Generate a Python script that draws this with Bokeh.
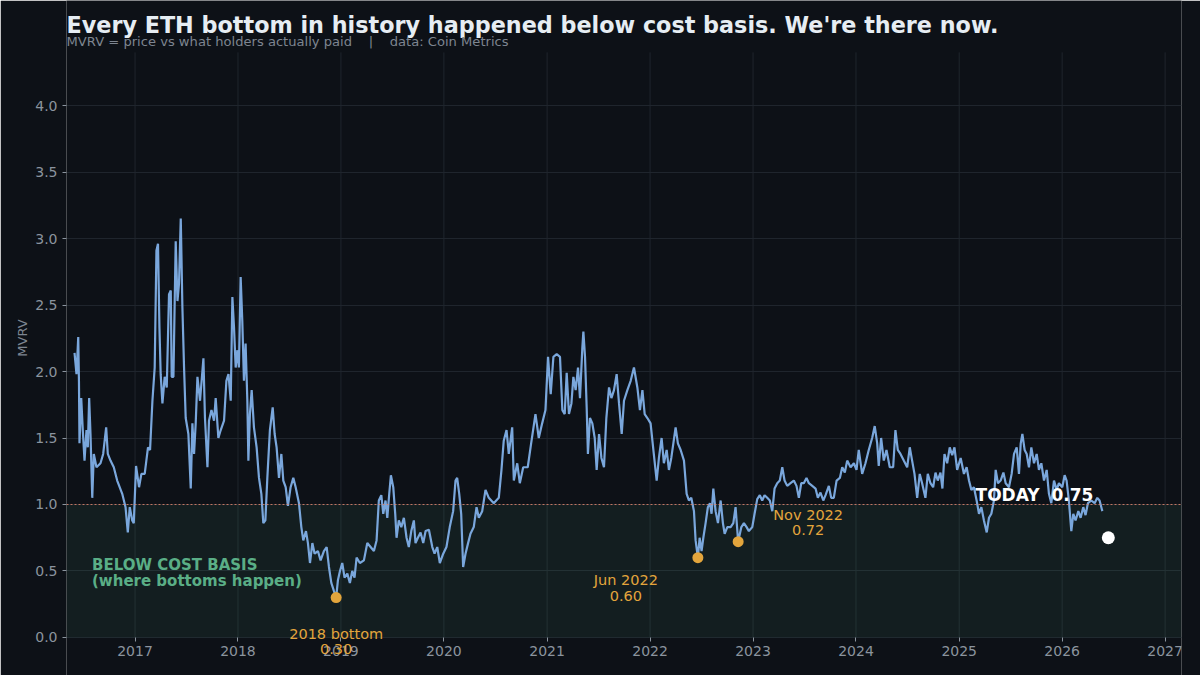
from datetime import datetime, timedelta
from bokeh.plotting import figure
from bokeh.models import (Span, BoxAnnotation, Label, ColumnDataSource, FixedTicker,
                          DatetimeTickFormatter, PrintfTickFormatter, Range1d)
from bokeh.embed import file_html
from bokeh.resources import INLINE

# ---------------- data ----------------
dec_years = [
    2016.415, 2016.434, 2016.451, 2016.458, 2016.463, 2016.480, 2016.495, 2016.512, 2016.531, 2016.544,
    2016.557, 2016.570, 2016.587, 2016.602, 2016.628, 2016.667, 2016.693, 2016.722, 2016.738, 2016.764,
    2016.796, 2016.829, 2016.878, 2016.910, 2016.932, 2016.951, 2016.975, 2016.990,
    2017.010, 2017.039, 2017.062, 2017.094, 2017.126, 2017.146, 2017.169, 2017.191, 2017.208, 2017.223,
    2017.237, 2017.249, 2017.266, 2017.288, 2017.308, 2017.330, 2017.347, 2017.356, 2017.373, 2017.395,
    2017.412, 2017.427, 2017.444, 2017.460, 2017.476, 2017.492, 2017.518, 2017.541, 2017.557, 2017.573,
    2017.589, 2017.606, 2017.631, 2017.664, 2017.679, 2017.703, 2017.718, 2017.742, 2017.767, 2017.783,
    2017.809, 2017.832, 2017.864, 2017.887, 2017.907, 2017.929, 2017.945, 2017.961, 2017.977, 2017.994,
    2018.009, 2018.026, 2018.042, 2018.058, 2018.074, 2018.091, 2018.101, 2018.116, 2018.133, 2018.155,
    2018.181, 2018.204, 2018.227, 2018.246, 2018.266, 2018.285, 2018.310, 2018.337, 2018.356, 2018.375,
    2018.398, 2018.421, 2018.440, 2018.463, 2018.485, 2018.511, 2018.537, 2018.560, 2018.592, 2018.615,
    2018.634, 2018.660, 2018.679, 2018.699, 2018.722, 2018.744, 2018.776, 2018.802, 2018.834, 2018.861,
    2018.883, 2018.906, 2018.931, 2018.953, 2018.970, 2018.990,
    2019.013, 2019.035, 2019.062, 2019.087, 2019.110, 2019.132, 2019.152, 2019.184, 2019.223, 2019.256,
    2019.288, 2019.320, 2019.346, 2019.368, 2019.392, 2019.411, 2019.433, 2019.450, 2019.469, 2019.485,
    2019.508, 2019.527, 2019.540, 2019.562, 2019.586, 2019.611, 2019.637, 2019.659, 2019.683, 2019.708,
    2019.724, 2019.747, 2019.773, 2019.799, 2019.822, 2019.854, 2019.887, 2019.909, 2019.935, 2019.960,
    2019.993,
    2020.025, 2020.057, 2020.090, 2020.113, 2020.129, 2020.149, 2020.168, 2020.187, 2020.210, 2020.232,
    2020.258, 2020.290, 2020.317, 2020.339, 2020.372, 2020.404, 2020.436, 2020.484, 2020.533, 2020.559,
    2020.581, 2020.608, 2020.630, 2020.663, 2020.679, 2020.712, 2020.737, 2020.770, 2020.814, 2020.847,
    2020.889, 2020.921, 2020.954, 2020.986,
    2021.009, 2021.035, 2021.061, 2021.093, 2021.125, 2021.148, 2021.171, 2021.190, 2021.212, 2021.236,
    2021.255, 2021.277, 2021.300, 2021.319, 2021.342, 2021.352, 2021.368, 2021.384, 2021.396, 2021.416,
    2021.439, 2021.462, 2021.481, 2021.504, 2021.527, 2021.552, 2021.575, 2021.601, 2021.624, 2021.649,
    2021.675, 2021.698, 2021.724, 2021.746, 2021.779, 2021.811, 2021.843, 2021.876, 2021.901, 2021.925,
    2021.947, 2021.973,
    2022.005, 2022.032, 2022.064, 2022.086, 2022.112, 2022.134, 2022.161, 2022.183, 2022.206, 2022.226,
    2022.248, 2022.270, 2022.297, 2022.329, 2022.355, 2022.377, 2022.400, 2022.426, 2022.442, 2022.464,
    2022.481, 2022.500, 2022.517, 2022.539, 2022.561, 2022.581, 2022.597, 2022.614, 2022.636, 2022.659,
    2022.685, 2022.707, 2022.724, 2022.750, 2022.782, 2022.808, 2022.830, 2022.855, 2022.886, 2022.911,
    2022.937, 2022.959, 2022.992,
    2023.015, 2023.041, 2023.066, 2023.089, 2023.112, 2023.138, 2023.163, 2023.187, 2023.209, 2023.235,
    2023.260, 2023.284, 2023.306, 2023.332, 2023.364, 2023.396, 2023.422, 2023.445, 2023.468, 2023.493,
    2023.519, 2023.542, 2023.575, 2023.607, 2023.629, 2023.655, 2023.682, 2023.704, 2023.736, 2023.759,
    2023.784, 2023.811, 2023.843, 2023.866, 2023.891, 2023.914, 2023.947, 2023.979,
    2024.005, 2024.027, 2024.060, 2024.092, 2024.124, 2024.157, 2024.182, 2024.206, 2024.221, 2024.244,
    2024.270, 2024.296, 2024.328, 2024.361, 2024.383, 2024.406, 2024.432, 2024.464, 2024.497, 2024.522,
    2024.545, 2024.568, 2024.594, 2024.619, 2024.642, 2024.674, 2024.697, 2024.723, 2024.749, 2024.772,
    2024.794, 2024.820, 2024.839, 2024.859, 2024.885, 2024.910, 2024.934, 2024.956, 2024.982,
    2025.014, 2025.046, 2025.072, 2025.095, 2025.118, 2025.143, 2025.169, 2025.192, 2025.215, 2025.240,
    2025.267, 2025.289, 2025.312, 2025.337, 2025.354, 2025.376, 2025.402, 2025.429, 2025.451, 2025.483,
    2025.509, 2025.532, 2025.558, 2025.580, 2025.597, 2025.613, 2025.635, 2025.655, 2025.677, 2025.700,
    2025.726, 2025.752, 2025.774, 2025.797, 2025.823, 2025.849, 2025.871, 2025.894, 2025.920, 2025.946,
    2025.968,
    2026.001, 2026.024, 2026.043, 2026.065, 2026.089, 2026.108, 2026.130, 2026.157, 2026.179, 2026.205,
    2026.227, 2026.250, 2026.283, 2026.315, 2026.341, 2026.363, 2026.390,
]

mvrv = [
    2.14, 1.98, 2.26, 1.92, 1.46, 1.80, 1.56, 1.33, 1.56, 1.43,
    1.80, 1.53, 1.05, 1.38, 1.28, 1.31, 1.38, 1.58, 1.38, 1.33,
    1.28, 1.18, 1.08, 0.98, 0.79, 0.98, 0.88, 0.86,
    1.29, 1.13, 1.23, 1.23, 1.43, 1.41, 1.78, 2.03, 2.91, 2.96,
    2.33, 1.98, 1.76, 1.96, 1.88, 2.58, 2.61, 1.96, 1.96, 2.98,
    2.53, 2.66, 3.15, 2.48, 2.03, 1.65, 1.53, 1.12, 1.61, 1.38,
    1.61, 1.96, 1.78, 2.10, 1.65, 1.28, 1.63, 1.71, 1.63, 1.80,
    1.50, 1.56, 1.63, 1.93, 1.98, 1.78, 2.56, 2.33, 2.03, 2.16,
    2.03, 2.71, 2.38, 1.93, 2.21, 1.78, 1.33, 1.68, 1.86, 1.58,
    1.43, 1.20, 1.08, 0.86, 0.88, 1.20, 1.56, 1.73, 1.53, 1.43,
    1.20, 1.38, 1.18, 1.13, 0.99, 1.13, 1.20, 1.13, 1.01, 0.83,
    0.73, 0.80, 0.71, 0.56, 0.71, 0.63, 0.65, 0.58, 0.65, 0.68,
    0.53, 0.41, 0.35, 0.30, 0.43, 0.50,
    0.56, 0.45, 0.48, 0.41, 0.50, 0.45, 0.60, 0.56, 0.58, 0.71,
    0.68, 0.65, 0.73, 1.03, 1.07, 0.93, 1.03, 0.90, 1.08, 1.22,
    1.13, 0.93, 0.75, 0.88, 0.83, 0.90, 0.75, 0.68, 0.80, 0.88,
    0.71, 0.75, 0.79, 0.71, 0.80, 0.81, 0.68, 0.63, 0.68, 0.56,
    0.63,
    0.68, 0.83, 0.95, 1.18, 1.20, 1.08, 0.93, 0.53, 0.63, 0.70,
    0.78, 0.83, 0.98, 0.90, 0.95, 1.11, 1.05, 1.01, 1.05, 1.26,
    1.48, 1.56, 1.38, 1.58, 1.18, 1.31, 1.16, 1.28, 1.28, 1.46,
    1.68, 1.50, 1.61, 1.71,
    2.11, 1.83, 2.11, 2.13, 2.11, 1.71, 1.68, 1.99, 1.68, 1.76,
    1.96, 1.86, 2.03, 1.80, 2.18, 2.30, 2.11, 1.73, 1.38, 1.65,
    1.61, 1.50, 1.26, 1.53, 1.35, 1.28, 1.65, 1.88, 1.80, 1.86,
    1.98, 1.76, 1.53, 1.78, 1.86, 1.93, 2.03, 1.88, 1.71, 1.86,
    1.68, 1.65,
    1.61, 1.41, 1.18, 1.35, 1.50, 1.31, 1.41, 1.26, 1.35, 1.46,
    1.58, 1.46, 1.41, 1.33, 1.08, 1.03, 1.05, 0.95, 0.73, 0.60,
    0.75, 0.65, 0.75, 0.86, 0.98, 1.01, 0.93, 1.12, 0.95, 0.86,
    1.03, 0.86, 0.78, 0.83, 0.83, 0.86, 0.98, 0.72, 0.83, 0.86,
    0.83, 0.80, 0.83,
    0.93, 1.04, 1.07, 1.03, 1.07, 1.05, 1.03, 0.95, 1.12, 1.16,
    1.18, 1.28, 1.18, 1.14, 1.16, 1.18, 1.14, 1.05, 1.16, 1.16,
    1.20, 1.16, 1.14, 1.12, 1.05, 1.09, 1.03, 1.07, 1.14, 1.05,
    1.05, 1.18, 1.20, 1.28, 1.24, 1.33, 1.28, 1.31,
    1.26, 1.41, 1.23, 1.31, 1.41, 1.50, 1.59, 1.46, 1.29, 1.50,
    1.33, 1.41, 1.28, 1.28, 1.56, 1.41, 1.38, 1.33, 1.28, 1.43,
    1.33, 1.23, 1.05, 1.23, 1.16, 1.05, 1.23, 1.16, 1.13, 1.24,
    1.18, 1.24, 1.12, 1.38, 1.31, 1.43, 1.37, 1.43, 1.26,
    1.35, 1.23, 1.28, 1.18, 1.11, 1.13, 1.03, 0.93, 0.98, 0.88,
    0.79, 0.90, 0.93, 1.03, 1.26, 1.16, 1.18, 1.24, 1.16, 1.13,
    1.23, 1.38, 1.43, 1.23, 1.46, 1.53, 1.41, 1.38, 1.28, 1.43,
    1.31, 1.38, 1.26, 1.31, 1.18, 1.26, 1.08, 1.01, 1.18, 1.11,
    1.16,
    1.13, 1.22, 1.18, 1.03, 0.80, 0.93, 0.88, 0.95, 0.90, 0.98,
    0.92, 1.01, 1.03, 1.01, 1.05, 1.03, 0.95,
]

bottom_names = ["2018 bottom", "Jun 2022", "Nov 2022"]
bottom_years = [2018.953, 2022.464, 2022.855]
bottom_values = [0.30, 0.60, 0.72]

today_year = 2026.448
today_value = 0.75

cost_basis = 1.0
tick_years = list(range(2017, 2028))
y_ticks = [0.0, 0.5, 1.0, 1.5, 2.0, 2.5, 3.0, 3.5, 4.0]
plot_top = 4.4

# ---------------- helpers ----------------
EPOCH = datetime(1970, 1, 1)


def to_dt(y):
    yr = int(y)
    return datetime(yr, 1, 1) + timedelta(days=(y - yr) * 365.25)


def to_ms(d):
    return (d - EPOCH).total_seconds() * 1000.0


BG = "#0d1117"
LINE = "#7aa7dc"
ORANGE = "#e3a53c"
GREEN = "#5aae86"
MUTED = "#8b949e"
SUB = "#7d8590"
GRID = "#1f252d"
FONT = "DejaVu Sans"
NB = "\u00a0"

p = figure(width=1200, height=675, x_axis_type="datetime", output_backend="svg",
           toolbar_location=None, title=None,
           x_range=Range1d(to_dt(2016.337), to_dt(2027.159)), y_range=Range1d(-0.286, 4.79),
           background_fill_color=BG, border_fill_color=BG, outline_line_color=None,
           min_border_left=66, min_border_right=19, min_border_top=0, min_border_bottom=0)
p.outline_line_color = None

# axes
p.xaxis.fixed_location = 0
p.xaxis.ticker = FixedTicker(ticks=[to_ms(datetime(y, 1, 1)) for y in tick_years])
p.xaxis.formatter = DatetimeTickFormatter(years="%Y", months="%Y", days="%Y", hours="%Y")
p.yaxis.ticker = FixedTicker(ticks=y_ticks)
p.yaxis.formatter = PrintfTickFormatter(format="%.1f")
for ax in (p.xaxis[0], p.yaxis[0]):
    ax.axis_line_color = None
    ax.major_tick_line_color = MUTED
    ax.major_tick_out = 4
    ax.major_tick_in = 0
    ax.minor_tick_line_color = None
    ax.major_label_text_color = MUTED
    ax.major_label_text_font = FONT
    ax.major_label_text_font_size = "14px"
    ax.major_label_standoff = 5
p.yaxis.axis_label = "MVRV"
p.yaxis.axis_label_text_color = SUB
p.yaxis.axis_label_text_font = FONT
p.yaxis.axis_label_text_font_size = "13px"
p.yaxis.axis_label_text_font_style = "normal"
p.yaxis.axis_label_standoff = 2

p.xgrid.visible = False
p.ygrid.grid_line_color = GRID
p.ygrid.grid_line_width = 1

# vertical year grid lines limited to the plotting area
tick_dts = [datetime(y, 1, 1) for y in tick_years]
p.segment(x0=tick_dts, y0=[0] * len(tick_dts), x1=tick_dts, y1=[plot_top] * len(tick_dts),
          line_color=GRID, line_width=1, level="underlay")

# below cost basis zone
p.add_layout(BoxAnnotation(bottom=0, top=cost_basis, fill_color="#5fd0a0", fill_alpha=0.07,
                           line_color=None, level="underlay"))
p.add_layout(Span(location=cost_basis, dimension="width", line_color="#e0846c",
                  line_dash="2 2", line_width=1, line_alpha=0.85))

# MVRV line
src = ColumnDataSource(data=dict(x=[to_dt(v) for v in dec_years], y=mvrv))
p.line("x", "y", source=src, line_color=LINE, line_width=2.2)

# bottoms
bsrc = ColumnDataSource(data=dict(x=[to_dt(v) for v in bottom_years], y=bottom_values))
p.scatter("x", "y", source=bsrc, size=11, fill_color=ORANGE, line_color=None)
p.scatter([to_dt(today_year)], [today_value], size=13, fill_color="white", line_color=None)

# annotation texts (offsets in screen pixels from each marker)
label_offsets = [(0, -36, -51), (-72, -22, -38), (70, 27, 12)]
for name, yr, v, (dx, dy1, dy2) in zip(bottom_names, bottom_years, bottom_values, label_offsets):
    for txt, dy in ((name, dy1), (f"{v:.2f}", dy2)):
        p.add_layout(Label(x=to_dt(yr), y=v, text=txt, x_offset=dx, y_offset=dy,
                           text_align="center", text_baseline="middle",
                           text_color=ORANGE, text_font=FONT, text_font_size="14.5px"))

p.add_layout(Label(x=to_dt(today_year), y=today_value, text=f"TODAY{NB} {today_value:.2f}",
                   x_offset=-15, y_offset=43, text_align="right", text_baseline="middle",
                   text_color="white", text_font=FONT, text_font_size="17px",
                   text_font_style="bold"))

p.add_layout(Label(x=25.5, y=111, x_units="screen", y_units="screen", text="BELOW COST BASIS",
                   text_baseline="middle", text_color=GREEN, text_font=FONT,
                   text_font_size="15px", text_font_style="bold"))
p.add_layout(Label(x=25.5, y=94.5, x_units="screen", y_units="screen",
                   text="(where bottoms happen)",
                   text_baseline="middle", text_color=GREEN, text_font=FONT,
                   text_font_size="15px", text_font_style="bold"))

# title & subtitle
p.add_layout(Label(x=0, y=650.5, x_units="screen", y_units="screen",
                   text="Every ETH bottom in history happened below cost basis. We're there now.",
                   text_baseline="middle", text_color="#e6edf3", text_font=FONT,
                   text_font_size="22.3px", text_font_style="bold"))
p.add_layout(Label(x=0, y=634.3, x_units="screen", y_units="screen",
                   text=f"MVRV = price vs what holders actually paid{NB*3} |{NB*3} data: Coin Metrics",
                   text_baseline="middle", text_color=SUB, text_font=FONT,
                   text_font_size="13.1px"))

html = file_html(p, INLINE)
html = html.replace("<body>", f'<body style="background:{BG};">', 1)
open("out.html", "w").write(html)
